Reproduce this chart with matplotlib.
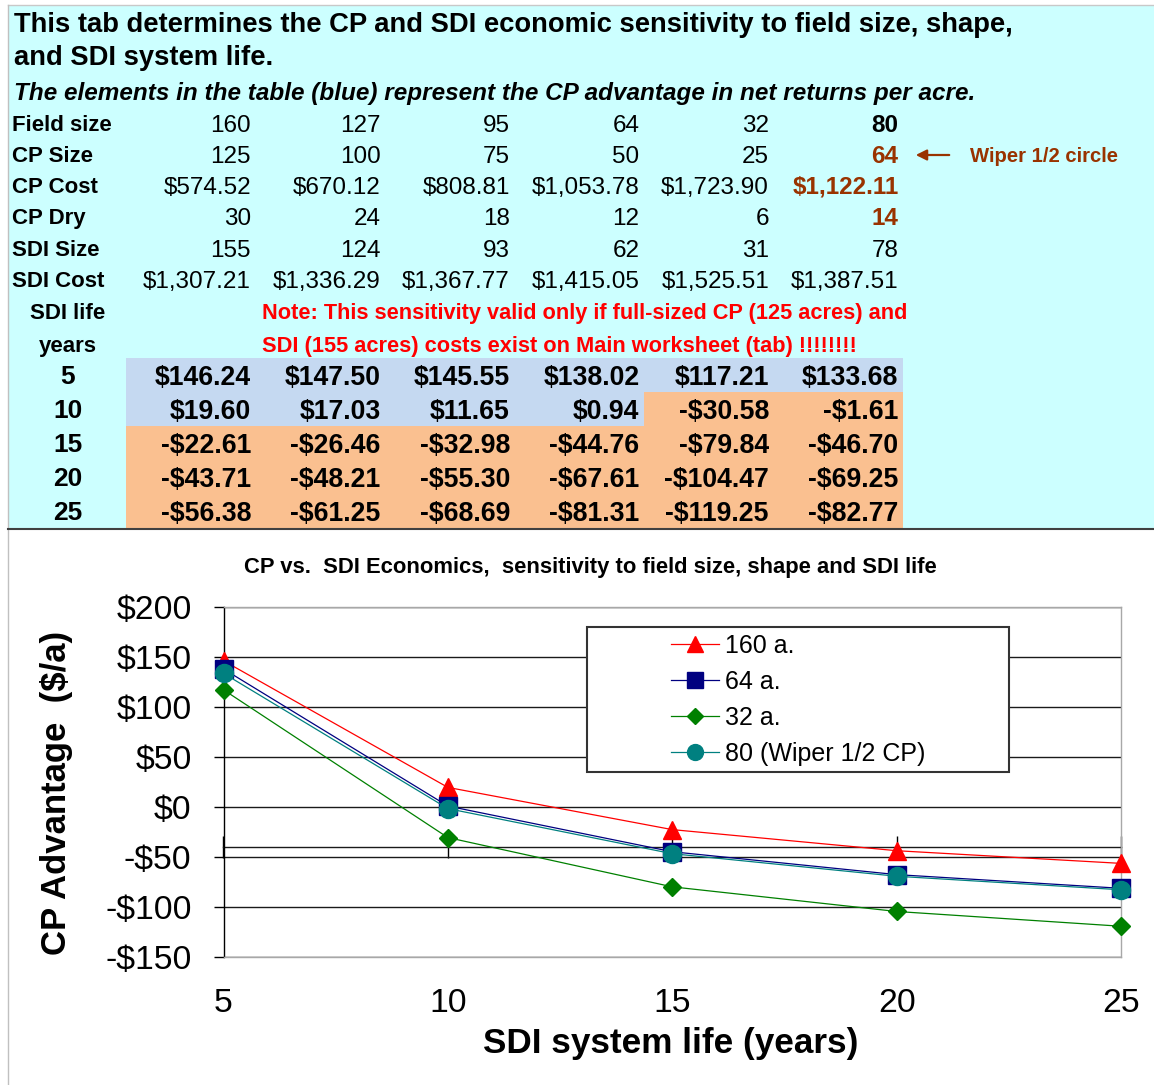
import matplotlib
matplotlib.use('Agg')
import matplotlib.pyplot as plt
from matplotlib.patches import Rectangle

plt.rcParams['font.family'] = ['Liberation Sans', 'DejaVu Sans']

W, H, DPI = 1154, 1085, 100

# ---------------- data ----------------
header_row_labels = ['Field size', 'CP Size', 'CP Cost', 'CP Dry', 'SDI Size', 'SDI Cost']
field_size = [160, 127, 95, 64, 32, 80]
cp_size = [125, 100, 75, 50, 25, 64]
cp_cost = [574.52, 670.12, 808.81, 1053.78, 1723.90, 1122.11]
cp_dry = [30, 24, 18, 12, 6, 14]
sdi_size = [155, 124, 93, 62, 31, 78]
sdi_cost = [1307.21, 1336.29, 1367.77, 1415.05, 1525.51, 1387.51]

sdi_life = [5, 10, 15, 20, 25]
adv_160 = [146.24, 19.60, -22.61, -43.71, -56.38]
adv_127 = [147.50, 17.03, -26.46, -48.21, -61.25]
adv_95 = [145.55, 11.65, -32.98, -55.30, -68.69]
adv_64 = [138.02, 0.94, -44.76, -67.61, -81.31]
adv_32 = [117.21, -30.58, -79.84, -104.47, -119.25]
adv_80 = [133.68, -1.61, -46.70, -69.25, -82.77]

series_labels = ['160 a.', '64 a.', '32 a.', '80 (Wiper 1/2 CP)']
series_values = [adv_160, adv_64, adv_32, adv_80]
y_ticks = [200, 150, 100, 50, 0, -50, -100, -150]

title_1 = 'This tab determines the CP and SDI economic sensitivity to field size, shape,'
title_2 = 'and SDI system life.'
subtitle = 'The elements in the table (blue) represent the CP advantage in net returns per acre.'
note_1 = 'Note: This sensitivity valid only if full-sized CP (125 acres) and'
note_2 = 'SDI (155 acres) costs exist on Main worksheet (tab) !!!!!!!!'
chart_title = 'CP vs.  SDI Economics,  sensitivity to field size, shape and SDI life'

# ---------------- styles ----------------
CYAN = '#CCFFFF'
BLUE_CELL = '#C5D9F1'
ORANGE_CELL = '#FAC090'
BROWN = '#993300'
RED = '#FF0000'
series_styles = [
    dict(color='#FF0000', marker='^', ms=13),
    dict(color='#000080', marker='s', ms=12.5),
    dict(color='#008000', marker='D', ms=9.5),
    dict(color='#008080', marker='o', ms=13),
]


def money(v):
    s = f"${abs(v):,.2f}"
    return '-' + s if v < 0 else s


fig = plt.figure(figsize=(W / DPI, H / DPI), dpi=DPI)
bg = fig.add_axes([0, 0, 1, 1])
bg.set_xlim(0, W)
bg.set_ylim(H, 0)
bg.axis('off')

bg.add_patch(Rectangle((8, 5), W - 8, 523, facecolor=CYAN, edgecolor='none'))
bg.plot([8, W], [5, 5], color='#C8C8C8', lw=1)
bg.plot([8, 8], [5, H], color='#C0C0C0', lw=1)
bg.plot([8, W], [529, 529], color='#404040', lw=1.5)


def txt(x, yc, s, size, ha='left', weight='normal', style='normal', color='#000000'):
    px = size * DPI / 72
    bg.text(x, yc + 0.358 * px, s, fontsize=size, ha=ha, va='baseline',
            fontweight=weight, fontstyle=style, color=color)


txt(14, 22, title_1, 19.7, weight='bold')
txt(14, 55, title_2, 19.7, weight='bold')
txt(14, 91, subtitle, 17.5, weight='bold', style='italic')

col_right = [251, 380.5, 510, 639.5, 769, 898.5]
row_y = [123, 154, 185, 216, 248, 279]
rows = [field_size, cp_size, cp_cost, cp_dry, sdi_size, sdi_cost]
money_rows = {2, 5}
last_col_style = [('bold', '#000000'), ('bold', BROWN), ('bold', BROWN), ('bold', BROWN),
                  ('normal', '#000000'), ('normal', '#000000')]
for r, (lab, vals) in enumerate(zip(header_row_labels, rows)):
    txt(12, row_y[r], lab, 16, weight='bold')
    for c, v in enumerate(vals):
        s = money(v) if r in money_rows else f"{v:g}"
        if c == len(vals) - 1:
            w_, col = last_col_style[r]
        else:
            w_, col = 'normal', '#000000'
        txt(col_right[c], row_y[r], s, 17.5, ha='right', weight=w_, color=col)

bg.annotate('', xy=(913, 155), xytext=(952, 155),
            arrowprops=dict(arrowstyle='-|>', color=BROWN, lw=1.6, mutation_scale=16))
txt(970, 155, 'Wiper 1/2 circle', 14.6, weight='bold', color=BROWN)

txt(68, 311, 'SDI life', 16, ha='center', weight='bold')
txt(68, 344, 'years', 16, ha='center', weight='bold')
txt(262, 311, note_1, 15.7, weight='bold', color=RED)
txt(262, 344, note_2, 15.7, weight='bold', color=RED)

adv_cols = [adv_160, adv_127, adv_95, adv_64, adv_32, adv_80]
cell_left = [126, 255.5, 385, 514.5, 644, 773.5]
cell_w = 129.5
row_top0, row_h = 358, 34
for i, life in enumerate(sdi_life):
    top = row_top0 + i * row_h
    yc = top + row_h / 2
    txt(68, yc, str(life), 19, ha='center', weight='bold')
    for c, col in enumerate(adv_cols):
        v = col[i]
        bg.add_patch(Rectangle((cell_left[c], top), cell_w, row_h,
                               facecolor=BLUE_CELL if v >= 0 else ORANGE_CELL,
                               edgecolor='none'))
        txt(col_right[c], yc, money(v), 19.2, ha='right', weight='bold')

# ---------------- chart ----------------
L, R, T, B = 223.5, 1121, 607, 957
ax = fig.add_axes([L / W, 1 - B / H, (R - L) / W, (B - T) / H])
ax.set_facecolor('none')
ax.set_xlim(5, 25)
ax.set_ylim(-150, 200)
ax.set_yticks(y_ticks)
ax.set_yticklabels([money(v).replace('.00', '') for v in y_ticks])
ax.set_xticks(sdi_life)
ax.set_xticklabels([str(v) for v in sdi_life])
ax.grid(axis='y', color='#1a1a1a', lw=1.0)
ax.grid(axis='x', visible=False)
ax.set_axisbelow(True)
for side in ['top', 'right', 'bottom']:
    ax.spines[side].set_color('#A8A8A8')
    ax.spines[side].set_linewidth(1.0)
    ax.spines[side].set_zorder(3)
ax.spines['left'].set_color('#000000')
ax.spines['left'].set_linewidth(1.0)
ax.tick_params(axis='y', direction='out', length=7.5, width=1, color='#000000',
               labelsize=24.3, pad=15.5)
ax.tick_params(axis='x', length=0, labelsize=24.3, pad=22)

sec = ax.secondary_xaxis((-40 + 150) / 350)
sec.set_xticks(sdi_life)
sec.set_xticklabels([])
sec.tick_params(direction='inout', length=16, width=1, color='#000000')
for sp in sec.spines.values():
    sp.set_color('#1a1a1a')
    sp.set_linewidth(1.0)

handles = []
for lab, vals, st in zip(series_labels, series_values, series_styles):
    h, = ax.plot(sdi_life, vals, color=st['color'], lw=0.9, marker=st['marker'],
                 ms=st['ms'], mfc=st['color'], mec=st['color'], mew=1,
                 clip_on=False, zorder=4, label=lab)
    handles.append(h)

ax.add_patch(Rectangle((587 / W, 1 - 772 / H), 422 / W, 145 / H, transform=fig.transFigure,
                       facecolor='white', edgecolor='#333333', lw=1.5, zorder=6, clip_on=False))
leg = ax.legend(handles=handles, loc='center', bbox_to_anchor=(798 / W, 1 - 700 / H),
                bbox_transform=fig.transFigure, frameon=False, fontsize=18,
                handlelength=1.92, handletextpad=0.25, labelspacing=0.48, markerscale=0.88)
leg.set_zorder(7)

fig.text(590 / W, 1 - 568 / H, chart_title, fontsize=15.8, fontweight='bold',
         ha='center', va='center')
fig.text(57 / W, 1 - 793 / H, 'CP Advantage  ($/a)', fontsize=25, fontweight='bold',
         ha='center', va='center', rotation=90)
fig.text(671 / W, 1 - 1043 / H, 'SDI system life (years)', fontsize=25.3, fontweight='bold',
         ha='center', va='center')

fig.savefig('out.png', dpi=DPI)
